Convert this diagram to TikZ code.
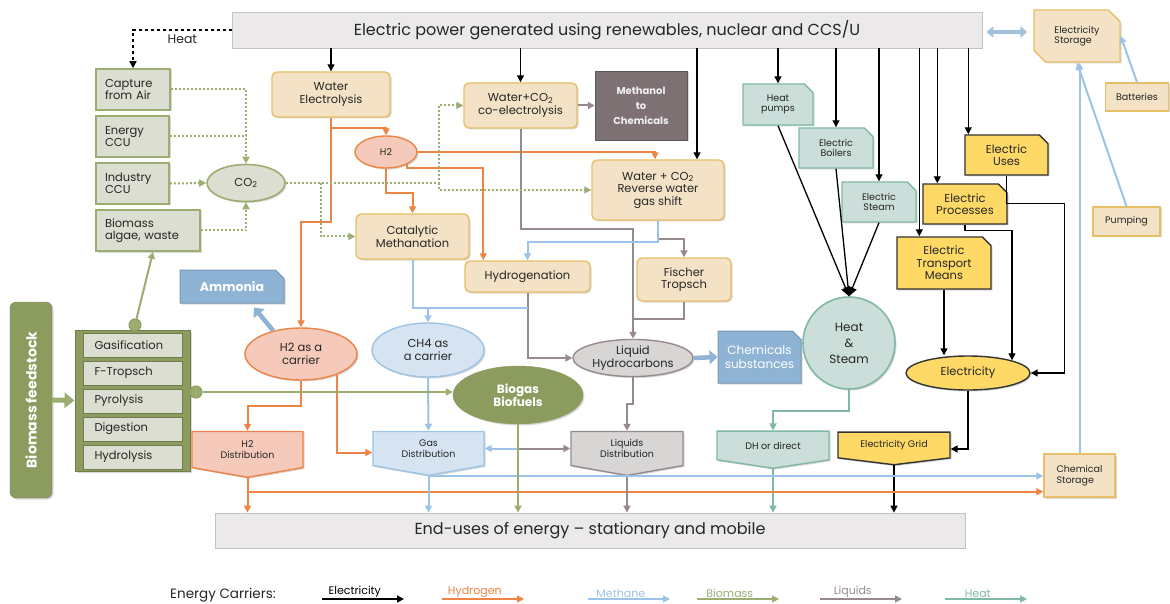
\documentclass[tikz,border=0pt]{standalone}
\usepackage{fontspec}
\setmainfont{Poppins}
\usetikzlibrary{shapes,arrows,positioning,calc,arrows.meta,shadows}

\definecolor{tanfill}{HTML}{F3E2C6}
\definecolor{tanline}{HTML}{E6BF66}
\definecolor{grnfill}{HTML}{DCDED1}
\definecolor{grnline}{HTML}{9CAD72}
\definecolor{biofill}{HTML}{8C9B5E}
\definecolor{h2fill}{HTML}{F5CABB}
\definecolor{h2line}{HTML}{EC8446}
\definecolor{ch4fill}{HTML}{D6E4F1}
\definecolor{ch4line}{HTML}{9DC3E6}
\definecolor{liqfill}{HTML}{D8D5D5}
\definecolor{liqline}{HTML}{978A8C}
\definecolor{tealfill}{HTML}{CBDED9}
\definecolor{tealline}{HTML}{80B8A8}
\definecolor{goldfill}{HTML}{FFD966}
\definecolor{blueblk}{HTML}{8EB3D4}
\definecolor{methfill}{HTML}{7D7173}
\definecolor{barfill}{HTML}{EBE9EA}
\definecolor{barline}{HTML}{C4C2C3}
\definecolor{inktxt}{HTML}{262626}

\tikzset{
    shad/.style={drop shadow={opacity=0.3, shadow xshift=1.5pt, shadow yshift=-1.5pt}},
    lbl/.style={font=\fontsize{11.5}{12.5}\selectfont, text=inktxt, align=center, inner sep=1pt},
    sml/.style={font=\fontsize{9.5}{10.5}\selectfont, text=inktxt, align=center, inner sep=1pt},
    cut/.style={chamfered rectangle, chamfered rectangle corners=north east, chamfered rectangle xsep=5pt},
    bar/.style={draw=barline, fill=barfill, line width=0.8pt, inner sep=0pt, text=inktxt},
    procbox/.style={lbl, shad, draw=tanline, fill=tanfill, line width=1.4pt, rounded corners=5pt},
    stobox/.style={sml, shad, draw=tanline, fill=tanfill, line width=1.4pt},
    capbox/.style={lbl, shad, draw=grnline, fill=grnfill, line width=1.6pt, align=left},
    stepbox/.style={lbl, draw=biofill!80!black, fill=grnfill, line width=1pt, minimum width=99, minimum height=24, text width=76, align=left},
    dotc/.style={circle, fill=grnline, draw=biofill, line width=1pt, minimum size=12, inner sep=0pt},
    h2ell/.style={lbl, ellipse, shad, draw=h2line, fill=h2fill, line width=1.4pt},
    ch4ell/.style={lbl, ellipse, shad, draw=ch4line, fill=ch4fill, line width=1.4pt},
    liqell/.style={lbl, ellipse, shad, draw=liqline, fill=liqfill, line width=1.4pt},
    co2ell/.style={lbl, ellipse, shad, draw=grnline, fill=grnfill, line width=1.6pt},
    bioell/.style={lbl, ellipse, shad, draw=biofill, fill=biofill, text=white, font=\fontsize{12}{13}\selectfont\bfseries},
    tealbox/.style={sml, cut, shad, draw=tealline, fill=tealfill, line width=1.4pt},
    goldbox/.style={lbl, cut, shad, draw=black!80, fill=goldfill, line width=1.4pt},
    blubox/.style={lbl, cut, shad, draw=blueblk!85!black, fill=blueblk, text=white, line width=1pt},
    distbox/.style={sml, shad, shape=signal, signal to=south, signal from=nowhere, line width=1.4pt},
    elarr/.style={draw=black, line width=1.3pt, -{Triangle[length=7pt,width=7pt]}},
    h2arr/.style={draw=h2line, line width=2pt, -{Triangle[length=7pt,width=7pt]}},
    ch4arr/.style={draw=ch4line, line width=2pt, -{Triangle[length=7pt,width=7pt]}},
    liqarr/.style={draw=liqline, line width=2pt, -{Triangle[length=7pt,width=7pt]}},
    bioarr/.style={draw=grnline, line width=2pt, -{Triangle[length=7pt,width=7pt]}},
    heatarr/.style={draw=tealline, line width=2pt, -{Triangle[length=7pt,width=7pt]}},
    co2arr/.style={draw=grnline, line width=2pt, dash pattern=on 2pt off 2pt, -{Triangle[length=7pt,width=7pt]}},
    fatarr/.style={draw=blueblk, line width=4.5pt, -{Triangle[length=8pt,width=14pt]}},
}

\begin{document}
\begin{tikzpicture}[x=1pt, y=-1pt]
    \path[use as bounding box, fill=white] (0,0) rectangle (1170,604);

    \node[bar, minimum width=750, minimum height=36, font=\fontsize{16}{19}\selectfont] (power) at (607,30) {Electric power generated using renewables, nuclear and CCS/U};
    \node[bar, minimum width=750, minimum height=35, font=\fontsize{16}{19}\selectfont] (enduse) at (590,530.5) {End-uses of energy – stationary and mobile};

    \node[stobox, cut, chamfered rectangle corners={north east,south west}, chamfered rectangle xsep=8pt, minimum width=86, minimum height=52, align=left] (elstor) at (1077,36) {Electricity\\Storage};
    \node[stobox, minimum width=63, minimum height=28] (batt) at (1137,97) {Batteries};
    \node[stobox, minimum width=67, minimum height=29] (pump) at (1126.5,221.5) {Pumping};
    \node[stobox, minimum width=71, minimum height=43, align=left] (chst) at (1079.5,475.5) {Chemical\\Storage};

    \node[capbox, minimum width=74, minimum height=41, text width=56] (capt) at (133,89.5) {Capture\\from Air};
    \node[capbox, minimum width=73, minimum height=41, text width=55] (eccu) at (132.5,136.5) {Energy\\CCU};
    \node[capbox, minimum width=73, minimum height=41, text width=55] (iccu) at (132.5,183.5) {Industry\\CCU};
    \node[capbox, minimum width=104, minimum height=41, text width=86] (bioal) at (148,230.5) {Biomass\\algae, waste};
    \node[co2ell, minimum width=78, minimum height=37] (co2) at (246,183) {CO\textsubscript{2}};

    \node[procbox, minimum width=118, minimum height=45] (wel) at (331,94.5) {Water\\Electrolysis};
    \node[h2ell, sml, minimum width=62, minimum height=32] (h2) at (386,152) {H2};
    \node[procbox, minimum width=113, minimum height=45] (coel) at (520.5,105.5) {Water+CO\textsubscript{2}\\co-electrolysis};
    \node[lbl, shad, draw=methfill!75!black, fill=methfill, text=white!90!methfill, minimum width=92, minimum height=69, font=\fontsize{10}{15}\selectfont\bfseries] (meth) at (641,105.5) {Methanol\\to\\Chemicals};
    \node[procbox, minimum width=132, minimum height=60] (rwgs) at (658,190) {Water + CO\textsubscript{2}\\Reverse water\\gas shift};
    \node[procbox, minimum width=113, minimum height=45] (catm) at (412.5,236.5) {Catalytic\\Methanation};
    \node[procbox, minimum width=125, minimum height=31] (hydg) at (527.5,276.5) {Hydrogenation};
    \node[procbox, minimum width=94, minimum height=43] (ftr) at (684,279.5) {Fischer\\Tropsch};

    \node[blubox, minimum width=104, minimum height=33, font=\fontsize{12.5}{13.5}\selectfont\bfseries] (amm) at (232,286.5) {Ammonia};
    \node[h2ell, minimum width=112, minimum height=52] (h2c) at (301,354) {H2 as a\\carrier};
    \node[ch4ell, minimum width=112, minimum height=54] (ch4c) at (428,350) {CH4 as\\a carrier};
    \node[liqell, minimum width=120, minimum height=34] (liqh) at (633,358) {Liquid\\Hydrocarbons};
    \node[blubox, minimum width=83, minimum height=52, font=\fontsize{12}{14}\selectfont] (chem) at (759.5,357) {Chemicals\\substances};
    \node[bioell, minimum width=130, minimum height=58] (biog) at (518,395) {Biogas\\Biofuels};

    \node[shad, rounded corners=6pt, fill=biofill, draw=biofill!85!black, minimum width=42, minimum height=196, text=white, font=\fontsize{14}{15}\selectfont\bfseries] (feed) at (31,400) {\rotatebox{90}{Biomass feedstock}};
    \node[shad, fill=biofill, draw=biofill!80!black, line width=1pt, minimum width=115, minimum height=141] (stack) at (132.5,400.5) {};
    \foreach \lbl [count=\i] in {Gasification, F-Tropsch, Pyrolysis, Digestion, Hydrolysis}
        \node[stepbox] (proc\i) at (132.5,317+28*\i) {\lbl};
    \node[dotc] (gdot) at (135,325) {};
    \node[dotc] (pdot) at (196,392) {};

    \node[distbox, draw=h2line, fill=h2fill, signal pointer angle=160, minimum width=111, minimum height=41] (h2d) at (247.5,449.5) {H2\\Distribution};
    \node[distbox, draw=ch4line, fill=ch4fill, signal pointer angle=160, minimum width=111, minimum height=39] (gasd) at (428.5,448.5) {Gas\\Distribution};
    \node[distbox, draw=liqline, fill=liqfill, signal pointer angle=160, minimum width=112, minimum height=39] (liqd) at (627,448.5) {Liquids\\Distribution};
    \node[distbox, draw=tealline, fill=tealfill, signal pointer angle=163, minimum width=112, minimum height=33] (dh) at (773,445.5) {DH or direct};
    \node[distbox, draw=black!80, fill=goldfill, signal pointer angle=166, minimum width=112, minimum height=30] (grid) at (894,445) {Electricity Grid};

    \node[tealbox, minimum width=70, minimum height=41] (hpump) at (778,104.5) {Heat\\pumps};
    \node[tealbox, minimum width=74, minimum height=40] (eboil) at (836,148) {Electric\\Boilers};
    \node[tealbox, minimum width=74, minimum height=40] (estm) at (879,202) {Electric\\Steam};
    \node[goldbox, minimum width=83, minimum height=40] (euse) at (1006.5,155) {Electric\\Uses};
    \node[goldbox, minimum width=84, minimum height=40] (eproc) at (965,204) {Electric\\Processes};
    \node[goldbox, minimum width=94, minimum height=52] (etran) at (944,263) {Electric\\Transport\\Means};
    \node[lbl, circle, shad, draw=tealline, fill=tealfill, line width=1.6pt, minimum size=92, font=\fontsize{12}{16}\selectfont] (hs) at (849,343) {Heat\\\&\\Steam};
    \node[lbl, ellipse, shad, draw=black!80, fill=goldfill, line width=1.4pt, minimum width=124, minimum height=34] (elec) at (968,373) {Electricity};

    % electricity
    \draw[elarr, dashed] (power.west) -| (capt.north) node[pos=0.25, below=3pt, lbl, font=\fontsize{12.5}{13}\selectfont] (heatlbl) {Heat};
    \draw[elarr] (power.south -| wel.north) -- (wel.north);
    \draw[elarr] (power.south -| coel.north) -- (coel.north);
    \draw[elarr] ($(power.south -| rwgs.north)+(39,0)$) -- ($(rwgs.north)+(39,0)$);
    \draw[elarr] (power.south -| hpump.north) -- (hpump.north);
    \draw[elarr] (power.south -| eboil.north) -- (eboil.north);
    \draw[elarr] (power.south -| estm.north) -- (estm.north);
    \draw[elarr] ($(power.south -| etran.north west)+(23,0)$) -- ($(etran.north west)+(23,0)$);
    \draw[elarr] ($(power.south -| eproc.north west)+(15,0)$) -- ($(eproc.north west)+(15,0)$);
    \draw[elarr] ($(power.south -| euse.north west)+(4,0)$) -- ($(euse.north west)+(4,0)$);
    \foreach \src in {hpump, eboil, estm}
        \draw[elarr, -{Triangle[length=9pt,width=9pt]}] (\src.south) -- (hs.north);
    \draw[elarr] (etran.south) -- (etran.south |- elec.north);
    \draw[elarr] (eproc.south) -- ++(0,6) -| ($(elec.north)+(44,5)$);
    \draw[elarr] (euse.south) -- ++(0,28) -| ($(elec.east)+(34,0)$) -- (elec.east);
    \draw[elarr] (elec.south) |- ($(grid.east)+(0,4)$);
    \draw[elarr] (grid.south) -- (grid.south |- enduse.north);

    % heat
    \draw[heatarr] (hs.south) -- ++(0,21) -| (dh.north);
    \draw[heatarr] (dh.south) -- (dh.south |- enduse.north);

    % hydrogen
    \draw[h2arr] (wel.south) -- ++(0,10) -| (h2.north);
    \draw[h2arr] (wel.south) -- ++(0,104) -| (h2c.north);
    \draw[h2arr] (h2.east) -| ($(rwgs.north)+(-3,0)$);
    \draw[h2arr] (h2.south) -- ++(0,24) -| (catm.north);
    \draw[h2arr] (h2.-30) -- ++(0,4) -| ($(hydg.north west)+(19,0)$);
    \draw[h2arr] (h2c.south) -- ++(0,25) -| (h2d.north);
    \draw[h2arr] (h2c.-30) |- ($(gasd.west)+(0,4)$);
    \draw[h2arr] (h2d.south) -- (h2d.south |- enduse.north);
    \draw[h2arr] ($(chst.south west -| h2d.south)+(0,-6)$) -- ($(chst.south west)+(0,-6)$);

    % liquids
    \draw[liqarr] (coel.east) -- (meth.west);
    \draw[liqarr] (rwgs.south) -- ++(0,18) -| (ftr.north);
    \draw[liqarr] (coel.south) -- ++(0,100) -| (liqh.north);
    \draw[liqarr, -] (ftr.south) |- ($(liqh.north)+(0,-20)$);
    \draw[liqarr] (hydg.south) |- (liqh.west);
    \draw[liqarr] (liqh.south) -- ++(0,27) -| (liqd.north);
    \draw[liqarr] (liqd.west -| biog.south) -- (liqd.west);
    \draw[liqarr] (liqd.south) -- (liqd.south |- enduse.north);

    % methane
    \draw[ch4arr] (catm.south) -- ++(0,48) -| (ch4c.north);
    \draw[ch4arr, -] ($(hydg.south)+(0,15)$) -- ($(catm.south)+(0,48)$);
    \draw[ch4arr] (rwgs.south) -- ++(0,21) -| (hydg.north);
    \draw[ch4arr] (ch4c.south) -- (gasd.north);
    \draw[ch4arr] (gasd.south) -- (gasd.south |- enduse.north);
    \draw[ch4arr] (gasd.south) -- (gasd.south -| chst.west);
    \draw[ch4arr] (liqd.west -| biog.south) -- (liqd.west -| gasd.east);
    \draw[ch4arr] (chst.north) -- (chst.north |- elstor.south);
    \draw[ch4arr] (pump.north) -- (elstor.south);
    \draw[ch4arr] (batt.north) -- (elstor.east);
    \draw[fatarr, draw=blueblk!80, {Triangle[length=7pt,width=11pt]}-{Triangle[length=7pt,width=11pt]}] ($(power.east)+(4,2)$) -- ($(elstor.west)+(-6,-4)$);
    \draw[fatarr] (h2c.140) -- ($(amm.south)+(22,4)$);
    \draw[fatarr] (liqh.east) -- (chem.west);

    % biomass
    \draw[bioarr] (gdot) -- ($(bioal.south)+(5,0)$);
    \draw[bioarr] (pdot) -- (pdot -| biog.west);
    \draw[bioarr] (biog.south) -- (biog.south |- enduse.north);
    \draw[bioarr, line width=5pt, -{Triangle[length=10pt,width=15pt]}] (feed.east) -- (stack.west);

    % co2
    \draw[co2arr] (capt.east) -| (co2.north);
    \draw[co2arr, -] (eccu.east) -- (eccu.east -| co2.north);
    \draw[co2arr] (iccu.east) -- (co2.west);
    \draw[co2arr] (bioal.east) -| (co2.south);
    \draw[co2arr] (co2.east) -- ($(co2.east -| coel.west)+(-24,0)$) |- (coel.west);
    \draw[co2arr] ($(co2.east -| coel.west)+(-24,0)$) |- (rwgs.west);
    \draw[co2arr] ($(co2.east)+(35,0)$) |- (catm.west);

    % legend
    \node[lbl, font=\fontsize{13.5}{14}\selectfont] (legend) at (223,595) {Energy Carriers:};
    \foreach \name/\col/\xa in {Electricity/black/322, Hydrogen/h2line/442, Methane/ch4line/588, Biomass/grnline/697, Liquids/liqline/820, Heat/tealline/945}
        \draw[draw=\col, line width=1.4pt, -{Triangle[length=7pt,width=7pt]}] (\xa,599) -- ++(82,0) node[pos=0.4, above, sml, font=\fontsize{11}{12}\selectfont, text=\col] (leg\name) {\name};
\end{tikzpicture}
\end{document}
